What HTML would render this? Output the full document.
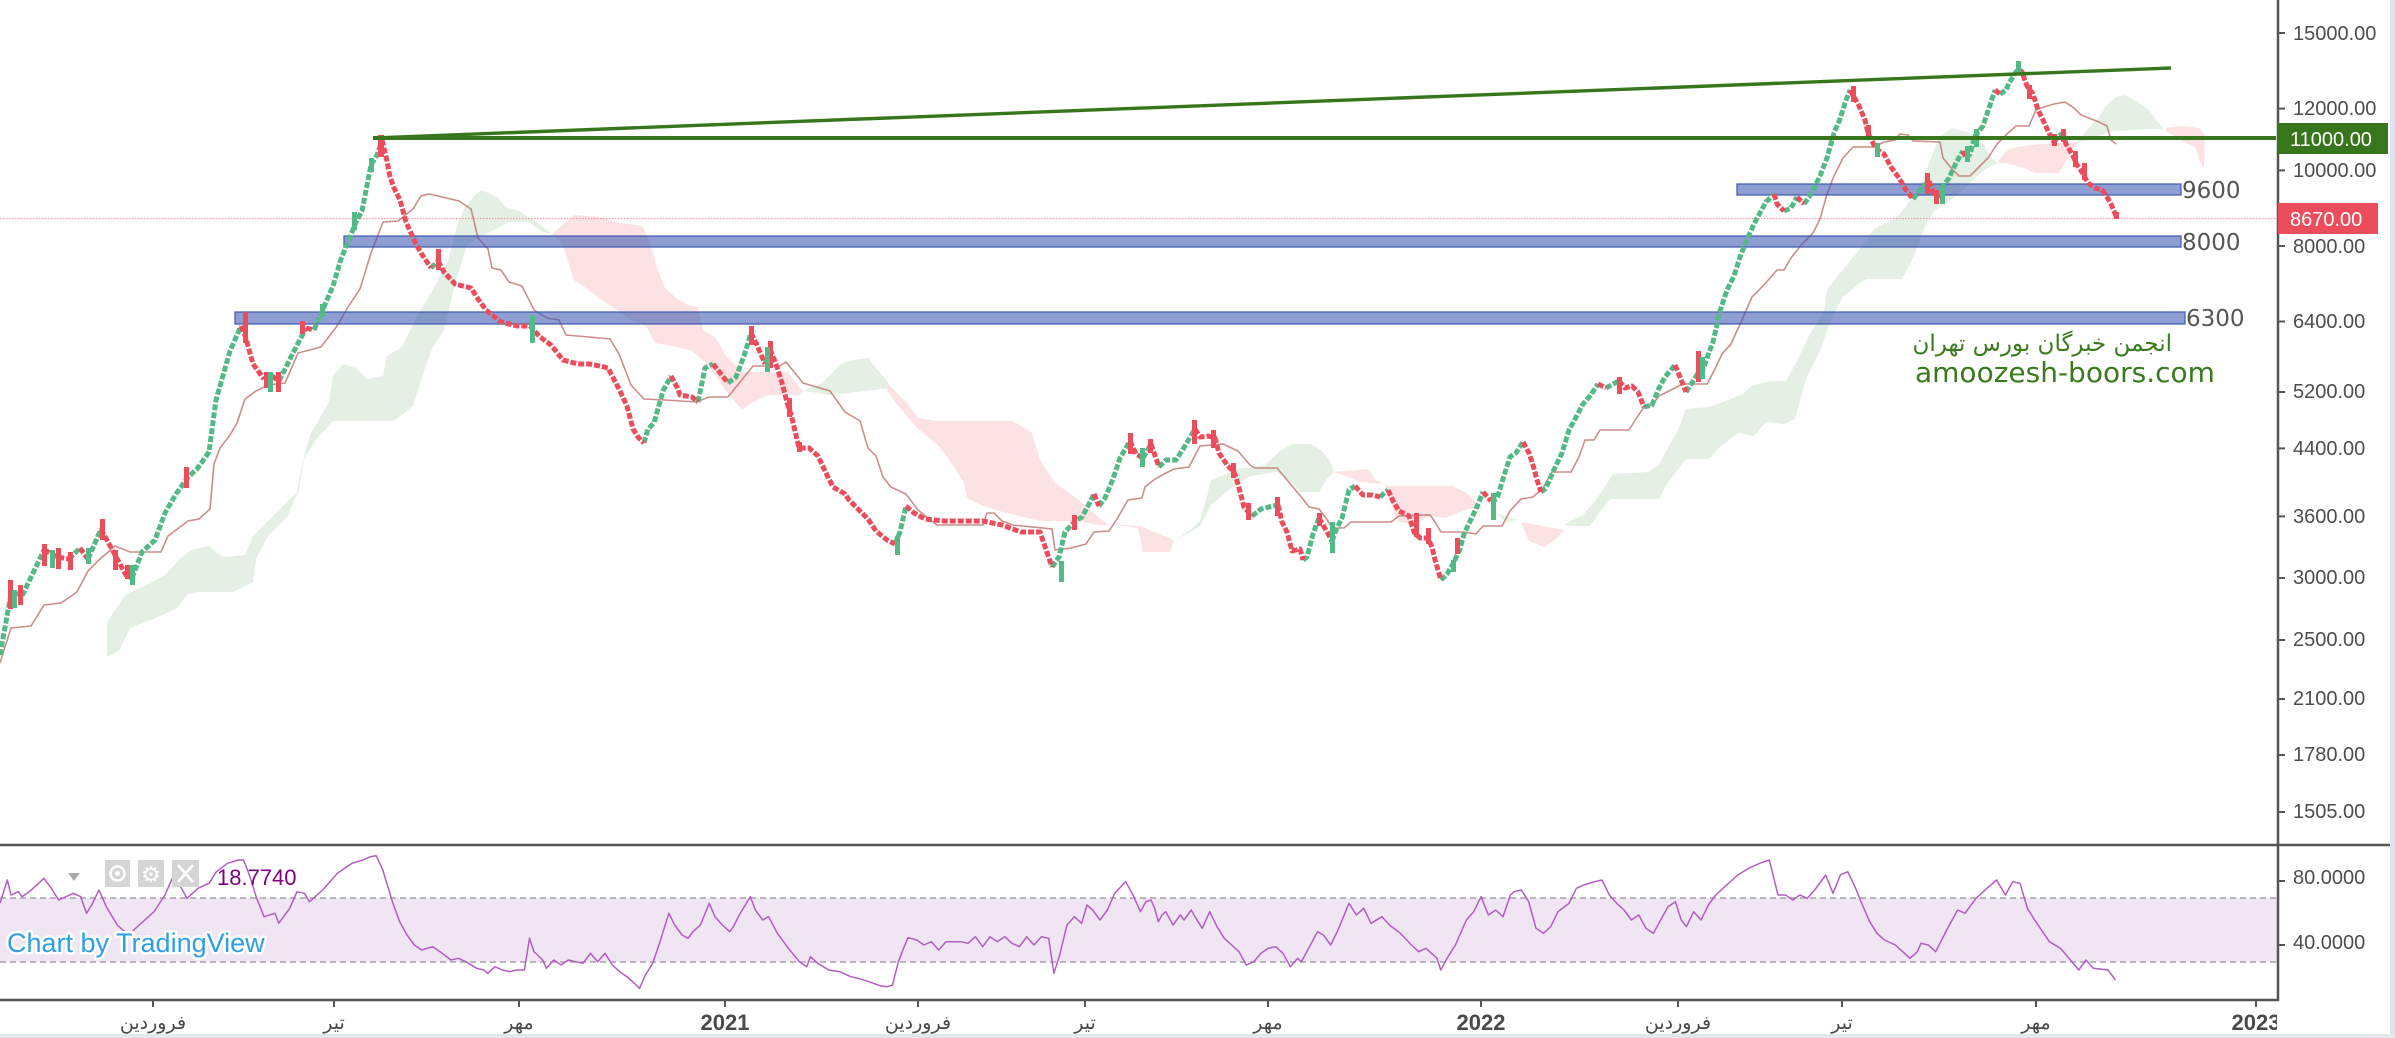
<!DOCTYPE html>
<html><head><meta charset="utf-8">
<style>
html,body{margin:0;padding:0;background:#fff;}
svg{display:block;}
</style></head>
<body>
<svg width="2395" height="1038" viewBox="0 0 2395 1038" xmlns="http://www.w3.org/2000/svg">
<defs>
<clipPath id="cm"><rect x="0" y="0" width="2277" height="844"/></clipPath>
<clipPath id="cr"><rect x="0" y="847" width="2277" height="152"/></clipPath>
<clipPath id="ct"><rect x="0" y="1001" width="2277" height="37"/></clipPath>
</defs>
<rect x="0" y="0" width="2395" height="1038" fill="#fff"/>
<rect x="2390" y="0" width="5" height="1038" fill="#d9e5f1"/>
<rect x="0" y="1034" width="2395" height="4" fill="#e4e7eb"/>

<g clip-path="url(#cm)">
  <!-- ichimoku cloud -->
  <g>
    <polygon fill="#e3f0e3" points="107,622 126,594 145,586 165,575 180,559 191,550 209,546 222,557 245,555 253,536 264,525 283,506 297,492 302,464 310,435 329,402 333,376 343,364 356,368 367,379 383,376 387,356 402,347 415,320 432,291 448,261 457,226 465,207 476,194 482,190 498,198 505,207 519,211 536,222 547,230 552,234 543,232 528,222 509,222 494,230 478,238 467,245 455,284 444,330 432,349 425,368 413,406 394,421 333,421 318,437 304,458 299,490 287,517 268,536 256,559 253,582 233,592 199,592 188,594 176,609 153,619 130,628 119,651 107,657"/>
    <polygon fill="#fde2e3" points="552,234 574,215 600,217 615,222 642,226 650,242 657,268 665,288 677,299 688,305 698,307 703,330 715,337 726,356 734,364 742,372 788,372 799,387 803,391 799,395 768,395 753,402 742,410 726,391 707,364 692,351 677,347 655,343 646,326 631,320 615,309 600,299 586,288 574,280 563,245"/>
    <polygon fill="#e3f0e3" points="803,391 822,383 833,372 841,364 853,360 868,358 876,368 887,381 891,388 830,395 818,393"/>
    <polygon fill="#fde2e3" points="887,383 906,402 918,418 937,421 1013,421 1032,433 1040,460 1055,483 1071,494 1086,506 1098,517 1109,525 1098,525 1078,521 1040,521 1006,513 983,506 967,498 964,483 952,464 937,444 918,429 895,402 887,390"/>
    <polygon fill="#fde2e3" points="1109,524 1140,526 1174,540 1170,552 1143,552 1138,528"/>
    <polygon fill="#e3f0e3" points="1174,542 1190,530 1200,521 1211,480 1238,469 1265,465 1280,451 1292,444 1311,444 1322,451 1330,461 1334,472 1326,480 1319,492 1300,492 1288,480 1277,472 1250,476 1231,488 1211,505 1200,526 1190,532"/>
    <polygon fill="#fde2e3" points="1334,472 1368,469 1376,480 1388,486 1453,486 1468,494 1483,509 1468,509 1453,515 1445,518 1430,516 1414,524 1399,522 1395,515 1384,484 1361,482 1345,476"/>
    <polygon fill="#e3f0e3" points="1496,513 1518,520 1506,522"/>
    <polygon fill="#fde2e3" points="1521,522 1564,530 1556,539 1544,547 1529,541"/>
    <polygon fill="#e3f0e3" points="1565,524 1583,515 1598,497 1613,474 1648,472 1659,465 1671,442 1678,430 1686,409 1709,407 1728,400 1743,394 1751,386 1770,381 1786,381 1797,361 1809,336 1824,311 1827,290 1841,272 1856,254 1874,229 1888,222 1899,215 1913,197 1924,176 1931,158 1940,136 1952,128 1970,133 1984,144 1991,158 1997,163 1986,169 1974,179 1963,190 1949,201 1934,211 1924,229 1913,258 1902,279 1866,279 1856,286 1843,297 1831,319 1820,351 1806,379 1795,419 1784,424 1766,422 1754,436 1738,433 1720,447 1709,459 1686,459 1667,484 1659,499 1611,499 1602,509 1590,526 1567,526"/>
    <polygon fill="#fde2e3" points="1997,163 2006,151 2016,147 2041,144 2077,142 2077,144 2066,161 2059,173 2034,173 2027,169 2006,163"/>
    <polygon fill="#e3f0e3" points="2077,142 2088,129 2099,117 2106,106 2116,97 2125,95 2136,101 2149,110 2156,120 2163,128 2163,129 2149,129 2113,131 2077,143"/>
    <polygon fill="#fde2e3" points="2166,128 2181,126 2199,128 2205,135 2204,170 2200,161 2195,147 2184,142 2166,131"/>
  </g>

  <!-- kijun -->
  <polyline fill="none" stroke="#c27a76" stroke-width="1.6" stroke-opacity="0.85" points="0,663 11,628 31,626 44,605 61,603 77,592 88,571 100,559 115,546 130,552 161,552 168,536 188,521 199,519 210,509 214,464 220,448 230,435 237,423 245,399 256,391 268,385 285,383 298,353 321,347 337,326 348,307 360,289 371,253 383,222 398,221 413,209 421,196 429,194 459,201 471,209 478,238 488,249 492,268 501,270 509,282 522,286 534,310 547,318 559,320 566,335 589,337 600,338 610,339 619,354 631,385 644,399 665,400 696,402 709,397 728,397 753,366 780,366 786,362 803,383 830,391 845,412 860,421 868,448 876,456 883,477 891,487 906,494 918,510 929,519 937,525 983,525 987,513 994,513 1002,521 1013,525 1052,529 1055,550 1071,548 1086,544 1094,532 1109,531 1117,519 1128,500 1142,498 1145,487 1155,479 1166,473 1174,469 1189,467 1200,446 1223,444 1238,451 1250,465 1255,468 1277,468 1292,486 1303,499 1309,507 1319,509 1326,518 1332,528 1344,528 1351,522 1391,522 1399,516 1430,515 1435,522 1441,532 1464,532 1476,534 1483,526 1502,526 1510,511 1521,499 1533,497 1543,488 1552,472 1571,472 1579,457 1585,440 1594,440 1600,430 1629,430 1636,419 1644,407 1652,405 1659,396 1667,392 1675,388 1682,384 1707,384 1715,369 1722,354 1731,344 1741,322 1752,297 1763,286 1777,270 1784,270 1791,258 1802,244 1813,233 1820,219 1827,194 1834,176 1843,158 1853,147 1874,147 1884,142 1895,140 1900,134 1908,135 1913,141 1940,142 1943,158 1952,169 1959,176 1970,176 1977,169 1988,158 1997,144 2006,135 2016,126 2029,126 2036,110 2041,108 2054,104 2065,102 2074,108 2081,115 2099,122 2107,126 2111,140 2116,144"/>

  <line x1="0" y1="218.5" x2="2277" y2="218.5" stroke="#f29aa4" stroke-width="1.2" stroke-dasharray="1.5,1.5"/>
  <g fill="rgb(60,88,177)" fill-opacity="0.58" stroke="rgb(60,88,177)" stroke-opacity="0.8" stroke-width="1.5">
    <rect x="1737" y="184" width="444" height="11"/>
    <rect x="344" y="236" width="1837" height="11"/>
    <rect x="235" y="312" width="1950" height="12"/>
  </g>

  <!-- candles approximation -->
  <path fill="none" stroke="#53b987" stroke-width="5" stroke-dasharray="6 2" stroke-linejoin="round" d="M0,655 L11,594 L23,594 L34,571 L44,550 M69,559 L80,548 M88,559 L101,529 M132,578 L142,552 L155,540 L165,513 L176,494 L188,477 L197,469 L209,452 L216,400 L230,351 L241,326 M264,379 L272,376 M279,381 L293,353 L306,328 M314,330 L323,309 L333,286 L341,259 L348,242 L356,222 L362,211 L371,165 L377,155 L382,140 M431,268 L438,261 M644,443 L648,429 L654,423 L663,391 L671,376 M698,402 L705,368 L713,364 M728,383 L736,377 L744,356 L751,333 M765,364 L770,349 M895,544 L900,532 L906,506 M1052,567 L1059,557 L1065,532 L1075,521 L1082,517 L1088,506 L1094,494 M1099,506 L1105,498 L1113,479 L1120,458 L1130,441 M1143,458 L1151,444 M1159,467 L1166,460 L1176,460 L1185,446 L1195,429 M1252,516 L1261,509 L1269,507 L1278,505 M1303,560 L1307,557 L1313,534 L1319,518 M1332,541 L1336,530 L1342,518 L1349,490 L1355,486 M1380,497 L1388,490 M1441,580 L1447,574 L1453,564 L1460,549 L1464,534 L1476,509 L1483,492 M1491,501 L1497,499 L1502,482 L1510,457 L1516,453 L1523,442 M1541,492 L1546,488 L1552,474 L1562,453 L1569,430 L1575,419 L1583,404 L1590,396 L1598,384 M1606,388 L1613,384 L1619,381 M1644,407 L1652,405 L1659,388 L1665,377 L1675,365 M1686,392 L1692,383 L1698,373 L1703,369 L1707,358 L1713,342 L1720,311 L1727,290 L1734,276 L1741,254 L1749,235 L1756,220 L1761,211 L1766,202 L1774,194 M1784,211 L1791,208 L1797,197 M1804,204 L1809,197 L1815,186 L1820,176 L1827,158 L1834,133 L1840,119 L1845,103 L1850,90 M1913,199 L1920,190 L1929,181 M1940,197 L1943,186 L1949,178 L1956,163 L1963,151 M1966,158 L1970,154 L1975,136 L1983,126 L1988,111 L1995,90 M2000,94 L2006,90 L2009,83 L2018,69 M2054,142 L2059,136 L2063,133"/>
  <path fill="none" stroke="#eb4d5c" stroke-width="5" stroke-dasharray="6 2" stroke-linejoin="round" d="M44,550 L57,557 L69,559 M80,548 L88,559 M101,529 L115,555 L126,575 L132,578 M241,326 L245,335 L253,364 L264,379 M272,376 L279,381 M306,328 L314,330 M382,140 L387,161 L390,177 L394,188 L400,200 L406,222 L415,242 L421,253 L431,268 M438,261 L444,272 L455,284 L471,288 L478,299 L486,310 L501,322 L517,326 L530,326 L540,337 L551,345 L563,360 L578,364 L589,364 L600,366 L608,368 L619,389 L627,406 L633,429 L638,437 L644,443 M671,376 L677,387 L680,395 L692,397 L698,402 M713,364 L721,374 L728,383 M751,333 L757,345 L765,364 M770,349 L776,364 L782,383 L788,406 L791,414 L799,448 L809,448 L818,456 L826,473 L833,487 L845,494 L849,500 L860,511 L868,519 L876,531 L887,540 L895,544 M906,506 L914,513 L925,519 L944,521 L964,521 L983,521 L1002,525 L1021,532 L1040,532 L1052,567 M1094,494 L1099,506 M1130,441 L1136,454 L1143,458 M1151,444 L1159,467 M1195,429 L1200,437 L1208,436 L1215,438 L1219,453 L1227,465 L1234,472 L1238,484 L1244,507 L1252,516 M1278,505 L1282,522 L1287,532 L1292,551 L1300,549 L1303,560 M1319,518 L1326,530 L1332,541 M1355,486 L1363,495 L1372,495 L1380,497 M1388,490 L1393,501 L1399,511 L1409,516 L1414,532 L1420,538 L1428,538 L1432,547 L1435,560 L1441,580 M1483,492 L1491,501 M1523,442 L1529,453 L1533,465 L1537,480 L1541,492 M1598,384 L1606,388 M1619,381 L1625,388 L1632,386 L1638,392 L1644,407 M1675,365 L1680,377 L1686,392 M1774,194 L1777,204 L1784,211 M1797,197 L1804,204 M1850,90 L1854,97 L1859,106 L1865,120 L1868,133 L1874,145 L1879,151 L1884,154 L1891,167 L1899,178 L1906,190 L1913,199 M1929,181 L1934,194 L1940,197 M1963,151 L1966,158 M1995,90 L2000,94 M2018,69 L2022,72 L2027,86 L2033,94 L2038,110 L2043,120 L2049,133 L2054,142 M2063,133 L2066,144 L2072,154 L2077,165 L2082,172 L2088,183 L2095,188 L2102,190 L2107,197 L2111,204 L2116,216"/>
  <!-- individual larger candle bodies -->
  <g fill="#eb4d5c">
    <rect x="8" y="580" width="5" height="29"/>
    <rect x="18" y="585" width="5" height="20"/>
    <rect x="42" y="544" width="5" height="22"/>
    <rect x="56" y="548" width="5" height="21"/>
    <rect x="68" y="552" width="5" height="18"/>
    <rect x="100" y="519" width="5" height="21"/>
    <rect x="113" y="550" width="5" height="20"/>
    <rect x="125" y="565" width="5" height="14"/>
    <rect x="184" y="467" width="5" height="21"/>
    <rect x="243" y="312" width="5" height="31"/>
    <rect x="264" y="372" width="5" height="16"/>
    <rect x="276" y="372" width="5" height="20"/>
    <rect x="300" y="321" width="5" height="13"/>
    <rect x="378" y="135" width="6" height="22"/>
    <rect x="436" y="249" width="5" height="21"/>
    <rect x="749" y="326" width="5" height="19"/>
    <rect x="768" y="341" width="5" height="27"/>
    <rect x="787" y="398" width="5" height="19"/>
    <rect x="797" y="442" width="5" height="10"/>
    <rect x="1072" y="515" width="5" height="15"/>
    <rect x="1128" y="433" width="5" height="21"/>
    <rect x="1148" y="439" width="5" height="14"/>
    <rect x="1192" y="420" width="5" height="24"/>
    <rect x="1211" y="430" width="5" height="18"/>
    <rect x="1231" y="463" width="5" height="15"/>
    <rect x="1246" y="503" width="5" height="17"/>
    <rect x="1275" y="497" width="5" height="19"/>
    <rect x="1317" y="513" width="5" height="13"/>
    <rect x="1414" y="513" width="5" height="24"/>
    <rect x="1426" y="528" width="5" height="16"/>
    <rect x="1455" y="538" width="5" height="16"/>
    <rect x="1617" y="377" width="5" height="17"/>
    <rect x="1696" y="351" width="5" height="31"/>
    <rect x="1851" y="86" width="5" height="16"/>
    <rect x="1866" y="125" width="5" height="12"/>
    <rect x="1925" y="173" width="5" height="21"/>
    <rect x="1934" y="190" width="5" height="14"/>
    <rect x="2027" y="85" width="5" height="14"/>
    <rect x="2052" y="134" width="5" height="12"/>
    <rect x="2061" y="129" width="5" height="13"/>
    <rect x="2073" y="151" width="5" height="16"/>
    <rect x="2082" y="163" width="5" height="17"/>
    <rect x="2114" y="212" width="5" height="7"/>
  </g>
  <g fill="#53b987">
    <rect x="12" y="590" width="5" height="18"/>
    <rect x="50" y="550" width="5" height="18"/>
    <rect x="86" y="548" width="5" height="16"/>
    <rect x="130" y="565" width="5" height="20"/>
    <rect x="268" y="372" width="5" height="20"/>
    <rect x="320" y="304" width="5" height="13"/>
    <rect x="352" y="212" width="5" height="18"/>
    <rect x="369" y="158" width="5" height="14"/>
    <rect x="530" y="315" width="5" height="28"/>
    <rect x="765" y="347" width="5" height="25"/>
    <rect x="895" y="536" width="5" height="19"/>
    <rect x="1059" y="561" width="5" height="21"/>
    <rect x="1140" y="448" width="5" height="19"/>
    <rect x="1330" y="522" width="5" height="31"/>
    <rect x="1451" y="560" width="5" height="12"/>
    <rect x="1491" y="493" width="5" height="27"/>
    <rect x="1700" y="357" width="5" height="22"/>
    <rect x="1875" y="143" width="5" height="14"/>
    <rect x="1940" y="185" width="5" height="19"/>
    <rect x="1965" y="146" width="5" height="16"/>
    <rect x="1974" y="129" width="5" height="18"/>
    <rect x="2016" y="61" width="5" height="12"/>
  </g>

  <line x1="373" y1="138" x2="2276" y2="138" stroke="#38761d" stroke-width="4"/>
  <line x1="373" y1="138" x2="2171" y2="68" stroke="#38761d" stroke-width="3.4"/>
  <g font-family="'DejaVu Sans', 'Liberation Sans', sans-serif" font-size="23" fill="#555">
    <text x="2182" y="198">9600</text>
    <text x="2182" y="250">8000</text>
    <text x="2186" y="326">6300</text>
  </g>
  <text x="2172" y="351" text-anchor="end" font-family="'DejaVu Sans', 'Noto Sans CJK SC', sans-serif" font-size="23" fill="#3b7a1e">انجمن خبرگان بورس تهران</text>
  <text x="1915" y="382" font-family="'DejaVu Sans', sans-serif" font-size="28" fill="#3b7a1e">amoozesh-boors.com</text>
</g>

<!-- RSI panel -->
<rect x="0" y="898" width="2277" height="64" fill="#f0e5f2"/>
<line x1="0" y1="898" x2="2277" y2="898" stroke="#a9a0aa" stroke-width="1.6" stroke-dasharray="6,4"/>
<line x1="0" y1="962" x2="2277" y2="962" stroke="#a9a0aa" stroke-width="1.6" stroke-dasharray="6,4"/>
<g clip-path="url(#cr)">
<polyline fill="none" stroke="#b25dc2" stroke-width="1.5" stroke-linejoin="round" points="0,903.3 7.3,880 11,895 18.3,891.7 22,896.7 29.3,891.7 44,878.3 51.3,888.3 58.7,900 66,896.7 73.3,893.3 80.7,896.7 86.5,913.3 91.7,905 99,890 106.3,906.7 117.3,925 128.3,935 139.3,925 154,911.7 165,895 172.3,878.3 179.7,885 187,898.3 198,888.3 209,883.3 216.4,871.7 227.4,863.3 238.4,860 243.5,860 249.4,875 256.7,898.3 264,916.7 275,913.3 278.7,923.3 289.7,908.3 297,891.7 304.4,893.3 309.5,901.7 322.7,890 337.4,873.3 352,863.3 363,860 370.4,856.7 376.2,855.7 382.8,870 392.4,901.7 399.7,921.7 407,935 414.4,945 421.7,950 432.7,946.7 440,951.7 451,960 458.4,958.3 465.7,961.7 476.7,968.3 484,970 487.7,973.3 495,966.7 502.4,970 509.7,971.7 517,970 524.4,970 529.5,938.3 534,951.7 542.7,960 546.4,968.3 553.7,960 561,965 568.4,960 575.7,961.7 583,963.3 590.4,953.3 597.7,961.7 605,953.3 612.4,965 619.7,971.7 627,976.7 634.4,983.3 639.5,988.3 645.4,975 652.7,963.3 660,941.7 668.9,913.3 674.7,925 682,935 688,938.3 693,931.7 700.4,925 709.2,903.3 715,916.7 722.4,925 729.7,931.7 733.4,926.7 739.3,915 750.3,896.7 755.4,910 762.7,920 768.6,916.7 777.4,933.3 788.4,948.3 799.4,961.7 806.7,966.7 810.4,956.7 817.7,963.3 828.7,970 839.7,971.7 850.7,976.7 858,978.3 869,981.7 880,985.7 887.4,986.7 892.5,985 898.4,961.7 903.5,948.3 908,937.7 916.7,940 924,945 931.4,941.7 938.7,950 946,941.7 960.8,941.7 968,943.3 975.4,936.7 982.7,946.7 990,936.7 997.4,941.7 1004.7,936.7 1012,943.3 1019.4,946.7 1026.7,936.7 1034,945 1041.4,936.7 1048.7,938.3 1053.9,973.3 1059.7,955 1067,925 1074.4,916.7 1081.7,923.3 1086.9,905 1092.7,910 1100,920 1107.4,910 1114.7,893.3 1125.7,881.7 1133,895 1140.4,911.7 1145.9,901.7 1151,900 1154.7,908.3 1158.3,921.7 1162,915 1165.7,911.7 1173,925 1180.3,915 1184,920 1191.3,910 1195,916.7 1202.3,928.3 1209.7,911.7 1217,926.7 1224.3,938.3 1231.7,945 1239,951.7 1246.3,965 1253.7,961.7 1261,953.3 1268.3,948.3 1275.7,946.7 1283,953.3 1290.3,966.7 1297.7,958.3 1301.3,961.7 1308.7,948.3 1317.5,931.7 1323.4,935 1330.7,945 1338,930 1349,903.3 1356.4,915 1363.7,908.3 1371,923.3 1382,916.7 1389.4,925 1400.4,933.3 1411.4,945 1418.7,951.7 1426,948.3 1437,958.3 1440.7,970 1448,956.7 1455.4,945 1466.4,920 1473.7,911.7 1481,896.7 1488.4,915 1495.7,910 1503,916.7 1510.4,895 1514,891.7 1521.4,890 1528.7,901.7 1536,928.3 1543.4,933.3 1550.7,926.7 1558,911.7 1569,903.3 1576.4,888.3 1583.7,885 1594.7,881.7 1602,880 1609.4,895 1616.7,903.3 1624,910 1631.4,920 1638.7,915 1646,928.3 1653.4,933.3 1660.7,920 1668,906.7 1675.4,901.7 1681.2,920 1686.4,926.7 1693.7,911.7 1701,920 1708.4,905 1715.7,895 1726.7,885 1737.7,875 1748.7,868.3 1759.7,863.3 1769.3,860 1778,895 1785.4,895 1792.7,900 1800,895 1807.4,898.3 1814.7,890 1825.7,875 1833,893.3 1840.4,875 1847.7,871.7 1855,886.7 1862.4,905 1869.7,921.7 1877,933.3 1884.4,940 1895.4,945 1902.7,951.7 1910,958.3 1917.4,951.7 1921,943.3 1928.4,945 1935.7,951.7 1946.7,930 1957.7,910 1965,913.3 1976,898.3 1987,888.3 1996.6,880 2005.4,895 2012.7,881.7 2020,883.3 2027.4,908.3 2034.7,920 2049.4,941.7 2060.4,948.3 2067.7,956.7 2078.7,970 2086,960 2093.4,968.3 2108,970 2115.4,980"/>
</g>

<!-- RSI header -->
<polygon points="68,873 80,873 74,881" fill="#aaa"/>
<rect x="105" y="860" width="25" height="27" fill="#d5d5d5"/>
<circle cx="117.5" cy="873.5" r="7" fill="none" stroke="#fff" stroke-width="2.5"/>
<circle cx="117.5" cy="873.5" r="2.5" fill="#fff"/>
<rect x="138" y="860" width="26" height="27" fill="#d5d5d5"/>
<text x="151" y="882" text-anchor="middle" font-family="'DejaVu Sans', sans-serif" font-size="22" fill="#fff">⚙</text>
<rect x="172" y="860" width="27" height="27" fill="#d5d5d5"/>
<path d="M178,865 L193,882 M193,865 L178,882" stroke="#fff" stroke-width="2.5"/>
<text x="217" y="885" font-family="'Liberation Sans', sans-serif" font-size="22" fill="#800080">18.7740</text>
<text x="7" y="952" font-family="'Liberation Sans', sans-serif" font-size="27" fill="#2e9ee8" stroke="#fff" stroke-width="5" paint-order="stroke" stroke-linejoin="round">Chart by TradingView</text>

<!-- axes -->
<line x1="2278" y1="0" x2="2278" y2="1001" stroke="#555" stroke-width="2.5"/>
<line x1="0" y1="845" x2="2390" y2="845" stroke="#555" stroke-width="2.5"/>
<line x1="0" y1="1000" x2="2279" y2="1000" stroke="#555" stroke-width="2.5"/>

<g stroke="#555" stroke-width="2">
  <line x1="2278" y1="33" x2="2285" y2="33"/>
  <line x1="2278" y1="108.6" x2="2285" y2="108.6"/>
  <line x1="2278" y1="170.4" x2="2285" y2="170.4"/>
  <line x1="2278" y1="246" x2="2285" y2="246"/>
  <line x1="2278" y1="321.5" x2="2285" y2="321.5"/>
  <line x1="2278" y1="392" x2="2285" y2="392"/>
  <line x1="2278" y1="448.4" x2="2285" y2="448.4"/>
  <line x1="2278" y1="516.4" x2="2285" y2="516.4"/>
  <line x1="2278" y1="578" x2="2285" y2="578"/>
  <line x1="2278" y1="640" x2="2285" y2="640"/>
  <line x1="2278" y1="699" x2="2285" y2="699"/>
  <line x1="2278" y1="755" x2="2285" y2="755"/>
  <line x1="2278" y1="812" x2="2285" y2="812"/>
  <line x1="2278" y1="881" x2="2285" y2="881"/>
  <line x1="2278" y1="945" x2="2285" y2="945"/>
</g>
<g font-family="'Liberation Sans', sans-serif" font-size="20" fill="#4d4d4d">
  <text x="2293" y="40">15000.00</text>
  <text x="2293" y="115">12000.00</text>
  <text x="2293" y="177">10000.00</text>
  <text x="2293" y="253">8000.00</text>
  <text x="2293" y="328">6400.00</text>
  <text x="2293" y="398">5200.00</text>
  <text x="2293" y="455">4400.00</text>
  <text x="2293" y="523">3600.00</text>
  <text x="2293" y="584">3000.00</text>
  <text x="2293" y="646">2500.00</text>
  <text x="2293" y="705">2100.00</text>
  <text x="2293" y="761">1780.00</text>
  <text x="2293" y="818">1505.00</text>
  <text x="2293" y="884">80.0000</text>
  <text x="2293" y="949">40.0000</text>
</g>
<rect x="2278" y="123" width="110" height="31" fill="#38761d"/>
<text x="2290" y="146" font-family="'Liberation Sans', sans-serif" font-size="20" fill="#fff">11000.00</text>
<rect x="2278" y="203" width="100" height="31" fill="#eb4d5c"/>
<text x="2290" y="226" font-family="'Liberation Sans', sans-serif" font-size="20" fill="#fff">8670.00</text>

<!-- time axis -->
<g stroke="#555" stroke-width="2">
  <line x1="153" y1="1000" x2="153" y2="1007"/>
  <line x1="334" y1="1000" x2="334" y2="1007"/>
  <line x1="519" y1="1000" x2="519" y2="1007"/>
  <line x1="725" y1="1000" x2="725" y2="1007"/>
  <line x1="918" y1="1000" x2="918" y2="1007"/>
  <line x1="1085" y1="1000" x2="1085" y2="1007"/>
  <line x1="1268" y1="1000" x2="1268" y2="1007"/>
  <line x1="1481" y1="1000" x2="1481" y2="1007"/>
  <line x1="1678" y1="1000" x2="1678" y2="1007"/>
  <line x1="1842" y1="1000" x2="1842" y2="1007"/>
  <line x1="2036" y1="1000" x2="2036" y2="1007"/>
  <line x1="2256" y1="1000" x2="2256" y2="1007"/>
</g>
<g clip-path="url(#ct)" font-family="'Liberation Sans', 'DejaVu Sans', sans-serif" fill="#4a4a4a" text-anchor="middle">
  <g font-size="19">
    <text x="153" y="1029">فروردین</text>
    <text x="334" y="1029">تیر</text>
    <text x="519" y="1029">مهر</text>
    <text x="918" y="1029">فروردین</text>
    <text x="1085" y="1029">تیر</text>
    <text x="1268" y="1029">مهر</text>
    <text x="1678" y="1029">فروردین</text>
    <text x="1842" y="1029">تیر</text>
    <text x="2036" y="1029">مهر</text>
  </g>
  <g font-size="22" font-weight="bold">
    <text x="725" y="1030">2021</text>
    <text x="1481" y="1030">2022</text>
    <text x="2256" y="1030">2023</text>
  </g>
</g>
</svg>
</body></html>
